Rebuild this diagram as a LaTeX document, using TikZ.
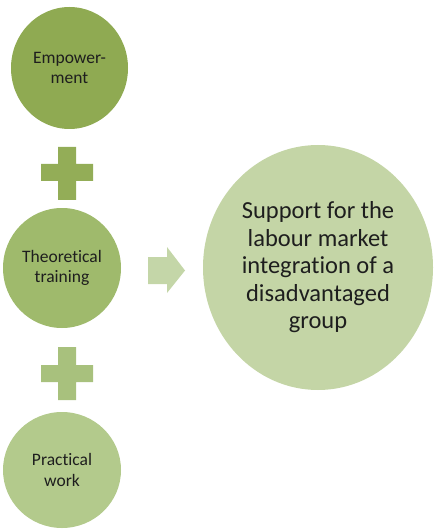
\documentclass[tikz,border=0pt]{standalone}
\usepackage{fontspec}
\setmainfont{Carlito}[Ligatures=NoCommon]
\usepackage{xcolor}
\usepackage{tikz}
\usetikzlibrary{shapes.geometric}
\definecolor{ink}{HTML}{1E1E1E}
\definecolor{leafa}{HTML}{8FAA52}
\definecolor{crossa}{HTML}{93AD57}
\definecolor{leafb}{HTML}{9FBA6C}
\definecolor{crossb}{HTML}{A8C17D}
\definecolor{leafc}{HTML}{B3CA8C}
\definecolor{pointer}{HTML}{C4D6A8}
\definecolor{goal}{HTML}{C4D5A6}
\tikzset{
  blob/.style={ellipse, inner sep=0pt, align=center, text=ink,
    font=\fontsize{17.5}{20.5}\selectfont},
  bigblob/.style={blob, font=\fontsize{24.5}{27.5}\selectfont},
}

\begin{document}
\begin{tikzpicture}[x=1pt, y=-1pt]
  \useasboundingbox (0,0) rectangle (437,529);

  \node[blob, fill=leafa, minimum width=117pt, minimum height=122pt]
    (empower) at (69.5,68) {Empower-\\ment};
  \node[blob, fill=leafb, minimum width=118pt, minimum height=120pt]
    (theory) at (62,268) {Theoretical\\training};
  \node[blob, fill=leafc, minimum width=118pt, minimum height=116pt]
    (practice) at (62,470) {Practical\\work};
  \node[bigblob, fill=goal, minimum width=230pt, minimum height=245pt]
    (support) at (318,267.5)
    {Support for the\\labour market\\integration of a\\disadvantaged\\group};

  % plus signs
  \fill[crossa] (58,147) rectangle (76,200) (41,164) rectangle (93,181);
  \fill[crossb] (58,347) rectangle (76,400) (41,365) rectangle (93,382);

  % block arrow
  \fill[pointer] (148,257) -- (167,257) -- (167,247) -- (185,270.5)
    -- (167,293) -- (167,284) -- (148,284) -- cycle;
\end{tikzpicture}
\end{document}
